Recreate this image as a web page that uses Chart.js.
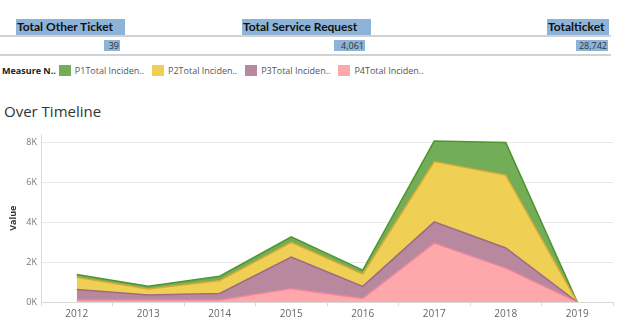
<!DOCTYPE html>
<html>
<head>
<meta charset="utf-8">
<script src="https://cdn.jsdelivr.net/npm/chart.js"></script>
<style>
  body { margin: 0; background: #fff; }
  #page { position: relative; width: 624px; height: 332px; overflow: hidden; font-family: "Open Sans", sans-serif; }
  .rule { position: absolute; left: 0; width: 611px; height: 2px; background: #d2d2d2; }
  .lbl { position: absolute; top: 19px; height: 16px; line-height: 16px; background: #8db3d8;
         font: bold 12px Lato, sans-serif; color: #111; padding-left: 1px; box-sizing: border-box; white-space: nowrap; }
  .val { position: absolute; top: 40px; height: 11px; line-height: 11px; background: #8db3d8;
         font-size: 9px; color: #333; text-align: right; padding-right: 1px; box-sizing: border-box; }
  #legend { position: absolute; left: 2px; top: 64px; display: flex; align-items: center; font-size: 9px; color: #555; white-space: nowrap; }
  #legend b { color: #222; margin-right: 3px; }
  #legend .sw { width: 12px; height: 11px; margin-right: 4px; }
  #legend .tx { margin-right: 8px; }
  #title { position: absolute; left: 4px; top: 101px; font-size: 15px; color: #333; }
  #wrap { position: absolute; left: 0; top: 125px; }
</style>
</head>
<body>
<div id="page">
  <div class="lbl" style="left:16px;width:109px">Total Other Ticket</div>
  <div class="lbl" style="left:242px;width:129px">Total Service Request</div>
  <div class="lbl" style="left:547px;width:62px">Totalticket</div>
  <div class="rule" style="top:35px"></div>
  <div class="val" style="left:104px;width:16px">39</div>
  <div class="val" style="left:334px;width:31px">4,061</div>
  <div class="val" style="left:576px;width:32px">28,742</div>
  <div class="rule" style="top:54px"></div>
  <div id="legend"><b>Measure N..</b></div>
  <div id="title">Over Timeline</div>
  <div id="wrap"><canvas id="c" width="624" height="207"></canvas></div>
</div>
<script>
// categories and stacked series
const years = ['2012', '2013', '2014', '2015', '2016', '2017', '2018', '2019'];
const p1 = [130, 130, 210, 280, 195, 1030, 1630, 0];
const p2 = [620, 310, 650, 735, 620, 3020, 3650, 0];
const p3 = [525, 245, 330, 1585, 605, 1060, 1010, 0];
const p4 = [100, 100, 100, 670, 180, 2955, 1700, 0];
const seriesNames = ['P1Total Inciden..', 'P2Total Inciden..', 'P3Total Inciden..', 'P4Total Inciden..'];
const yTicks = [0, 2000, 4000, 6000, 8000];

const fills = ['#73ad58', '#f0cf55', '#b8889f', '#ffa8ac'];
const lines = ['#4f952f', '#d2aa35', '#9c6a86', '#e7899b'];

// legend (P1..P4 order like the dashboard)
const legend = document.getElementById('legend');
seriesNames.forEach((name, i) => {
  const sw = document.createElement('span');
  sw.className = 'sw';
  sw.style.background = fills[i];
  const tx = document.createElement('span');
  tx.className = 'tx';
  tx.textContent = name;
  legend.appendChild(sw);
  legend.appendChild(tx);
});

// bottom of the stack first: P4, P3, P2, P1
const values = [p1, p2, p3, p4];
const datasets = [3, 2, 1, 0].map((i, k) => ({
  label: seriesNames[i],
  data: values[i],
  backgroundColor: fills[i],
  borderColor: lines[i],
  borderWidth: 1.5,
  pointRadius: 0,
  tension: 0,
  fill: k === 0 ? 'origin' : '-1'
}));

new Chart(document.getElementById('c'), {
  type: 'line',
  data: { labels: years, datasets },
  options: {
    responsive: false,
    animation: false,
    layout: { padding: { top: 6, right: 11, left: 0, bottom: 0 } },
    plugins: { legend: { display: false }, tooltip: { enabled: false } },
    scales: {
      x: {
        offset: true,
        grid: { offset: true, drawOnChartArea: false, tickLength: 4, color: '#d8d8d8' },
        border: { color: '#d8d8d8' },
        ticks: { font: { family: 'Open Sans', size: 10 }, color: '#666', padding: 2 },
        afterFit: s => { s.height = 30; }
      },
      y: {
        stacked: true,
        min: 0,
        max: 8400,
        afterBuildTicks: s => { s.ticks = yTicks.map(v => ({ value: v })); },
        grid: { color: '#e8e8e8', drawTicks: false },
        border: { color: '#dcdcdc' },
        ticks: {
          font: { family: 'Open Sans', size: 9 }, color: '#777', padding: 4,
          callback: v => (v / 1000) + 'K'
        },
        title: { display: true, text: 'Value', font: { family: 'Open Sans', size: 9, weight: 'bold' }, color: '#333', padding: { top: 8, bottom: 0 } },
        afterFit: s => { s.width = 41; }
      }
    }
  }
});
</script>
</body>
</html>
